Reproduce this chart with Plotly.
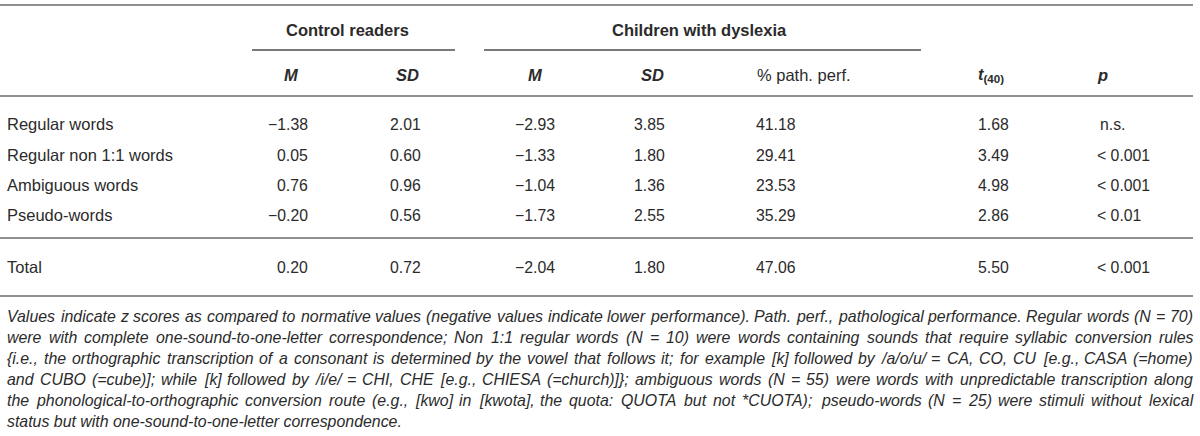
import plotly.graph_objects as go

# ---------------- data ----------------
row_labels = ["Regular words", "Regular non 1:1 words", "Ambiguous words", "Pseudo-words", "Total"]
control_m = [-1.38, 0.05, 0.76, -0.20, 0.20]
control_sd = [2.01, 0.60, 0.96, 0.56, 0.72]
dys_m = [-2.93, -1.33, -1.04, -1.73, -2.04]
dys_sd = [3.85, 1.80, 1.36, 2.55, 1.80]
path_perf = [41.18, 29.41, 23.53, 35.29, 47.06]
t_values = [1.68, 3.49, 4.98, 2.86, 5.50]
p_values = ["n.s.", "< 0.001", "< 0.001", "< 0.01", "< 0.001"]
group_headers = ["Control readers", "Children with dyslexia"]
col_headers = ["<b><i>M</i></b>", "<b><i>SD</i></b>", "<b><i>M</i></b>", "<b><i>SD</i></b>",
               "% path. perf.", "<b><i>t</i><sub>(40)</sub></b>", "<b><i>p</i></b>"]
footnote_lines = [
    "Values indicate z scores as compared to normative values (negative values indicate lower performance). Path. perf., pathological performance. Regular words (N = 70)",
    "were with complete one-sound-to-one-letter correspondence; Non 1:1 regular words (N = 10) were words containing sounds that require syllabic conversion rules",
    "{i.e., the orthographic transcription of a consonant is determined by the vowel that follows it; for example [k] followed by /a/o/u/ = CA, CO, CU [e.g., CASA (=home)",
    "and CUBO (=cube)]; while [k] followed by /i/e/ = CHI, CHE [e.g., CHIESA (=church)]}; ambiguous words (N = 55) were words with unpredictable transcription along",
    "the phonological-to-orthographic conversion route (e.g., [kwo] in [kwota], the quota: QUOTA but not *CUOTA); pseudo-words (N = 25) were stimuli without lexical",
    "status but with one-sound-to-one-letter correspondence.",
]

# ---------------- layout settings ----------------
W, H = 1200, 436
FONT = "Liberation Sans, Arial, sans-serif"
TXT = "#2b2b2b"
RULE = "#8f8f8f"
BODY = 16.5
NUM = 15.8

row_y = [124, 155, 185, 215, 267]
col_specs = [  # (x, anchor) for each numeric column
    (310, "right"), (423, "right"), (557, "right"), (667, "right"),
    (754, "left"), (976, "left"), (1095, "left"),
]
head_specs = [(291, "center"), (407, "center"), (535, "center"), (652, "center"),
              (755, "left"), (976, "left"), (1095, "left")]

def fmt(v):
    s = f"{abs(v):.2f}"
    return ("\u2212" + s) if v < 0 else s

fig = go.Figure()
fig.add_trace(go.Scatter(x=[0, W], y=[0, H], mode="markers", marker=dict(opacity=0),
                         hoverinfo="skip", showlegend=False))

ann = []
def add(x, y, text, anchor="left", size=BODY, color=TXT):
    ann.append(dict(x=x, y=y, xref="x", yref="y", text=text, showarrow=False,
                    xanchor=anchor, yanchor="middle", font=dict(family=FONT, size=size, color=color)))

# group headers
add(347, 30, "<b>" + group_headers[0] + "</b>", "center")
add(699, 30, "<b>" + group_headers[1] + "</b>", "center")
# column headers
for (x, a), h in zip(head_specs, col_headers):
    add(x, 75, h, a)
# body
columns = [
    [fmt(v) for v in control_m], [fmt(v) for v in control_sd],
    [fmt(v) for v in dys_m], [fmt(v) for v in dys_sd],
    [f"{v:.2f}" for v in path_perf], [f"{v:.2f}" for v in t_values], p_values,
]
for i, lab in enumerate(row_labels):
    add(5, row_y[i], lab, "left")
    for (x, a), col in zip(col_specs, columns):
        xx = x + (3 if col is p_values and col[i] == "n.s." else 0)
        add(xx, row_y[i], col[i], a, NUM)

# footnote, justified using Arial/Liberation metrics
AW = {' ': 278, '!': 278, '"': 355, '#': 556, '$': 556, '%': 889, '&': 667, "'": 191, '(': 333, ')': 333,
      '*': 389, '+': 584, ',': 278, '-': 333, '.': 278, '/': 278, ':': 278, ';': 278, '<': 584, '=': 584,
      '>': 584, '?': 556, '@': 1015, 'A': 667, 'B': 667, 'C': 722, 'D': 722, 'E': 667, 'F': 611, 'G': 778,
      'H': 722, 'I': 278, 'J': 500, 'K': 667, 'L': 556, 'M': 833, 'N': 722, 'O': 778, 'P': 667, 'Q': 778,
      'R': 722, 'S': 667, 'T': 611, 'U': 722, 'V': 667, 'W': 944, 'X': 667, 'Y': 667, 'Z': 611, '[': 278,
      '\\': 278, ']': 278, '^': 469, '_': 556, '`': 333, 'a': 556, 'b': 556, 'c': 500, 'd': 556, 'e': 556,
      'f': 278, 'g': 556, 'h': 556, 'i': 222, 'j': 222, 'k': 500, 'l': 222, 'm': 833, 'n': 556, 'o': 556,
      'p': 556, 'q': 556, 'r': 333, 's': 500, 't': 278, 'u': 556, 'v': 500, 'w': 722, 'x': 500, 'y': 500,
      'z': 500, '{': 334, '|': 260, '}': 334, '~': 584}
for d in "0123456789":
    AW[d] = 556

def tw(s, size):
    return sum(AW.get(c, 556) for c in s) * size / 1000.0

FX0, FX1 = 6, 1192
foot_y0, foot_dy = 316, 21
longest = max(tw(l, 1) for l in footnote_lines[:-1])
fsize = (FX1 - FX0) / longest * 0.99
for k, line in enumerate(footnote_lines):
    y = foot_y0 + k * foot_dy
    if k == len(footnote_lines) - 1:
        add(FX0 - 1, y, "<i>" + line + "</i>", "left", fsize)
        continue
    words = line.split(" ")
    widths = [tw(w, fsize) for w in words]
    gap = (FX1 - FX0 - sum(widths)) / (len(words) - 1)
    x = FX0
    for w, wd in zip(words, widths):
        add(x - 1, y, "<i>" + w + "</i>", "left", fsize)
        x += wd + gap

# rules
shapes = []
def hline(x0, x1, y, w=1.8, c=RULE):
    shapes.append(dict(type="line", xref="x", yref="y", x0=x0, x1=x1, y0=y, y1=y,
                       line=dict(color=c, width=w)))
hline(0, 1193, 5, 2.2)
hline(252, 455, 50, 1.4, "#4d4d4d")
hline(484, 921, 50, 1.4, "#4d4d4d")
hline(0, 1193, 96, 2.0)
hline(0, 1193, 238, 2.0)
hline(0, 1193, 296, 2.0)

fig.update_layout(
    width=W, height=H, margin=dict(l=0, r=0, t=0, b=0),
    paper_bgcolor="white", plot_bgcolor="white",
    xaxis=dict(range=[0, W], visible=False, fixedrange=True),
    yaxis=dict(range=[H, 0], visible=False, fixedrange=True),
    annotations=ann, shapes=shapes, showlegend=False,
)
fig.write_html("out.html", config={"displayModeBar": False},
               post_script="document.body.style.margin='0';document.body.style.overflow='hidden';")
